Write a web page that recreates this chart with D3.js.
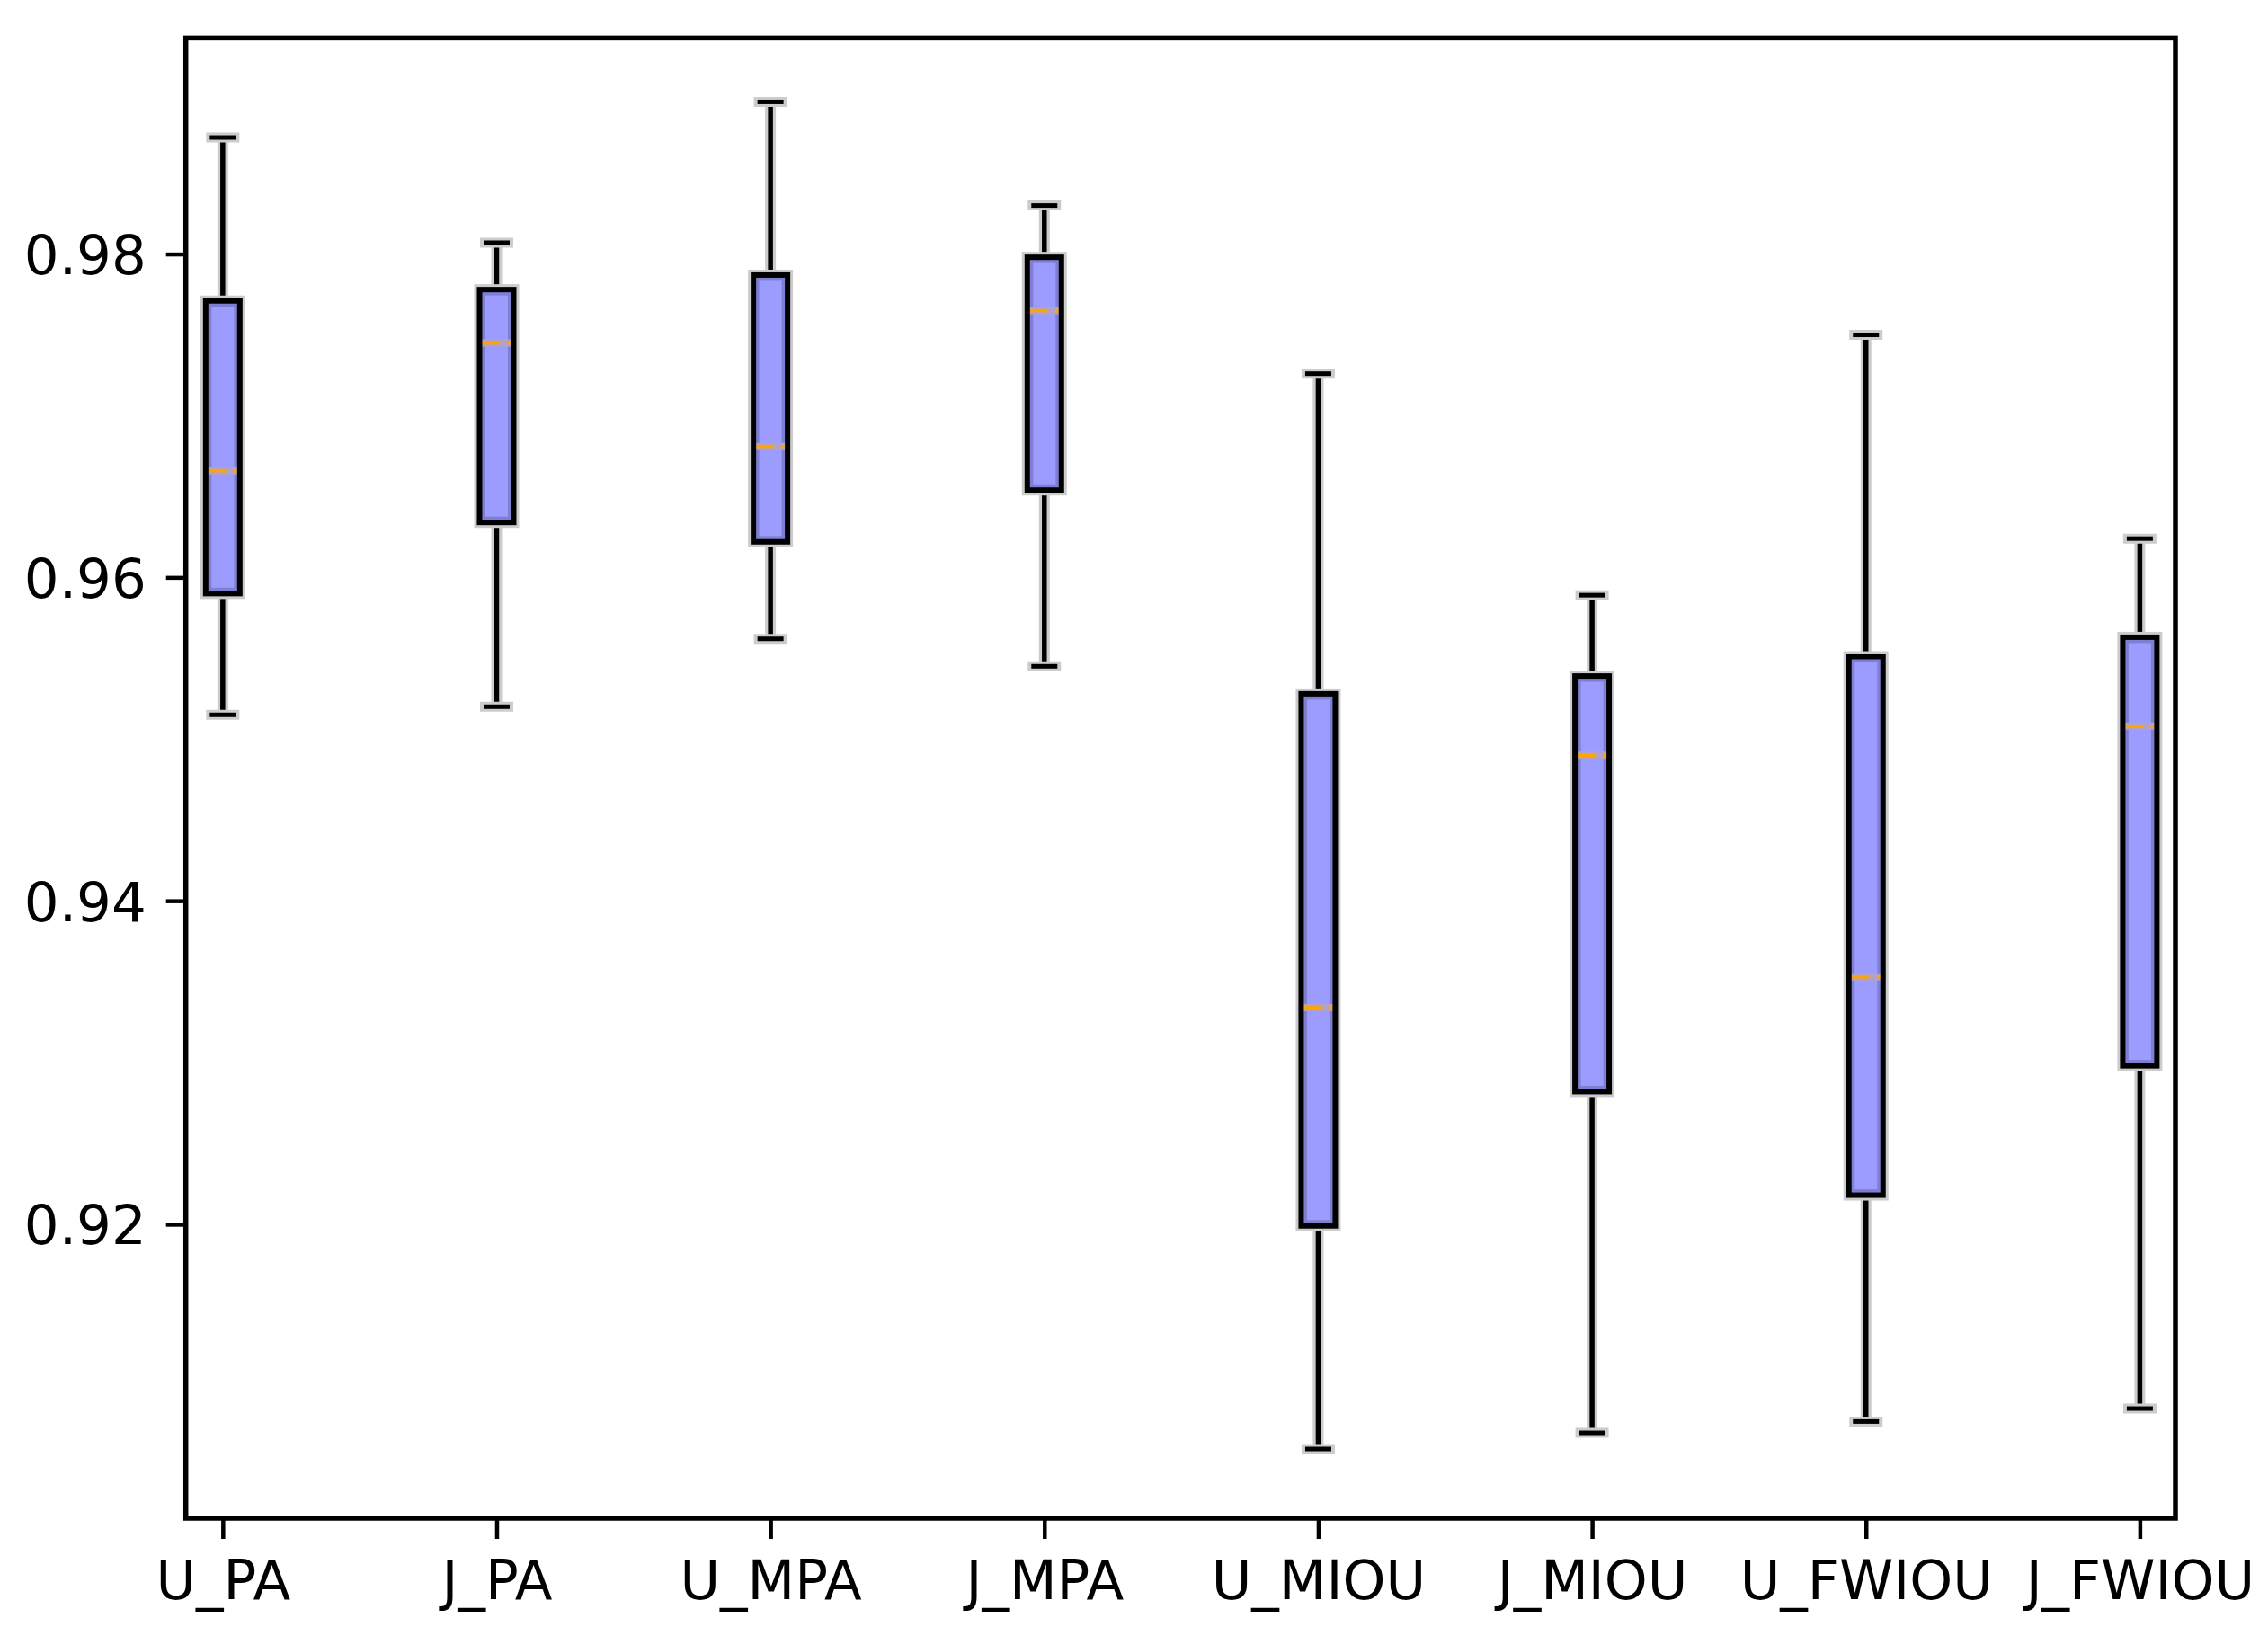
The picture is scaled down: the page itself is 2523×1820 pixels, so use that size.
<!DOCTYPE html>
<html>
<head>
<meta charset="utf-8">
<script src="https://cdn.jsdelivr.net/npm/d3@7"></script>
<style>
  html, body { margin: 0; padding: 0; background: #fff; }
  svg { display: block; }
  text { font-family: "DejaVu Sans", sans-serif; }
</style>
</head>
<body>
<script>
// ---- data ----
const categories   = ["U_PA", "J_PA", "U_MPA", "J_MPA", "U_MIOU", "J_MIOU", "U_FWIOU", "J_FWIOU"];
const whiskerLow   = [0.9515, 0.9520, 0.9562, 0.9545, 0.9061, 0.9071, 0.9078, 0.9086];
const q1Values     = [0.9590, 0.9634, 0.9622, 0.9654, 0.9199, 0.9282, 0.9218, 0.9298];
const medianValues = [0.9666, 0.9745, 0.9681, 0.9765, 0.9334, 0.9490, 0.9353, 0.9508];
const q3Values     = [0.9771, 0.9778, 0.9787, 0.9798, 0.9528, 0.9539, 0.9551, 0.9563];
const whiskerHigh  = [0.9872, 0.9807, 0.9894, 0.9830, 0.9726, 0.9589, 0.9750, 0.9624];
const yTickValues  = [0.92, 0.94, 0.96, 0.98];
const yDomain      = [0.90182, 0.99335];
const xDomain      = [0.865, 8.13];

// ---- layout ----
const W = 2523, H = 1820;
const plot = { left: 206.7, right: 2420, top: 42.4, bottom: 1689 };
const boxW = 38;     // px
const capW = 29;     // px
const fontSize = 61;

const svg = d3.select("body").append("svg")
  .attr("width", W).attr("height", H)
  .attr("viewBox", `0 0 ${W} ${H}`);

svg.append("rect").attr("width", W).attr("height", H).attr("fill", "#fff");

const x = d3.scaleLinear().domain(xDomain).range([plot.left, plot.right]);
const y = d3.scaleLinear().domain(yDomain).range([plot.bottom, plot.top]);

const data = categories.map((c, i) => ({
  cat: c, pos: i + 1,
  lo: whiskerLow[i], q1: q1Values[i], med: medianValues[i], q3: q3Values[i], hi: whiskerHigh[i]
}));

const g = svg.append("g");

// whiskers (halo then black)
const wh = g.append("g");
data.forEach(d => {
  const cx = x(d.pos);
  [["#cccccc", 12, 11], ["#000", 5.5, 5]].forEach(([col, wWid, cWid]) => {
    wh.append("line").attr("x1", cx).attr("x2", cx).attr("y1", y(d.q3)).attr("y2", y(d.hi))
      .attr("stroke", col).attr("stroke-width", wWid);
    wh.append("line").attr("x1", cx).attr("x2", cx).attr("y1", y(d.q1)).attr("y2", y(d.lo))
      .attr("stroke", col).attr("stroke-width", wWid);
  });
  // caps
  [["#cccccc", 11, capW + 8], ["#000", 5, capW]].forEach(([col, sw, len]) => {
    [d.hi, d.lo].forEach(v => {
      wh.append("line").attr("x1", cx - len / 2).attr("x2", cx + len / 2)
        .attr("y1", y(v)).attr("y2", y(v))
        .attr("stroke", col).attr("stroke-width", sw);
    });
  });
});

// boxes
const bx = g.append("g");
data.forEach(d => {
  const cx = x(d.pos);
  const x0 = cx - boxW / 2, y0 = y(d.q3), h = y(d.q1) - y(d.q3);
  bx.append("rect").attr("x", x0).attr("y", y0).attr("width", boxW).attr("height", h)
    .attr("fill", "#9c9cff").attr("stroke", "#cccccc").attr("stroke-width", 12);
  bx.append("rect").attr("x", x0 + 4).attr("y", y0 + 4).attr("width", boxW - 8).attr("height", h - 8)
    .attr("fill", "none").attr("stroke", "#7e7ed2").attr("stroke-width", 5);
  // median
  const my = y(d.med);
  bx.append("line").attr("x1", x0).attr("x2", x0 + boxW).attr("y1", my).attr("y2", my)
    .attr("stroke", "#b4a2c4").attr("stroke-width", 8);
  bx.append("line").attr("x1", x0).attr("x2", x0 + boxW * 0.6).attr("y1", my).attr("y2", my)
    .attr("stroke", "#ffa500").attr("stroke-width", 3.5);
  bx.append("line").attr("x1", x0 + boxW * 0.82).attr("x2", x0 + boxW).attr("y1", my).attr("y2", my)
    .attr("stroke", "#ffa500").attr("stroke-width", 3.5);
  bx.append("rect").attr("x", x0).attr("y", y0).attr("width", boxW).attr("height", h)
    .attr("fill", "none").attr("stroke", "#000").attr("stroke-width", 6);
});

// frame
svg.append("rect")
  .attr("x", plot.left).attr("y", plot.top)
  .attr("width", plot.right - plot.left).attr("height", plot.bottom - plot.top)
  .attr("fill", "none").attr("stroke", "#000").attr("stroke-width", 5.5);

// y axis
const yAxis = d3.axisLeft(y).tickValues(yTickValues).tickFormat(d3.format(".2f"))
  .tickSize(22).tickPadding(22);
const ya = svg.append("g").attr("transform", `translate(${plot.left},0)`).call(yAxis);
ya.select(".domain").remove();
ya.selectAll(".tick line").attr("stroke", "#000").attr("stroke-width", 4.5);
ya.selectAll(".tick text").attr("font-size", fontSize).attr("fill", "#000")
  .attr("font-family", "DejaVu Sans, sans-serif").attr("dy", "0.36em");

// x axis
const xAxis = d3.axisBottom(x).tickValues(data.map(d => d.pos))
  .tickFormat((d, i) => categories[i]).tickSize(23).tickPadding(23);
const xa = svg.append("g").attr("transform", `translate(0,${plot.bottom})`).call(xAxis);
xa.select(".domain").remove();
xa.selectAll(".tick line").attr("stroke", "#000").attr("stroke-width", 4.5);
xa.selectAll(".tick text").attr("font-size", fontSize).attr("fill", "#000")
  .attr("font-family", "DejaVu Sans, sans-serif").attr("dy", "0.72em");
</script>
</body>
</html>
